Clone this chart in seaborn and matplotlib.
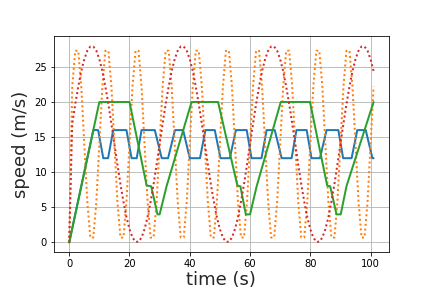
import numpy as np
import pandas as pd
import matplotlib
matplotlib.use("Agg")
import matplotlib.pyplot as plt
import seaborn as sns

# time samples (s) for the two oscillating series
time = list(range(0, 102))

orange_speed = [
    0.0, 22.2, 27.3, 27.3, 22.2, 14.0, 5.8, 0.7, 0.7, 5.8,
    14.0, 22.2, 27.3, 27.3, 22.2, 14.0, 5.8, 0.7, 0.7, 5.8,
    14.0, 22.2, 27.3, 27.3, 22.2, 14.0, 5.8, 0.7, 0.7, 5.8,
    14.0, 22.2, 27.3, 27.3, 22.2, 14.0, 5.8, 0.7, 0.7, 5.8,
    14.0, 22.2, 27.3, 27.3, 22.2, 14.0, 5.8, 0.7, 0.7, 5.8,
    14.0, 22.2, 27.3, 27.3, 22.2, 14.0, 5.8, 0.7, 0.7, 5.8,
    14.0, 22.2, 27.3, 27.3, 22.2, 14.0, 5.8, 0.7, 0.7, 5.8,
    14.0, 22.2, 27.3, 27.3, 22.2, 14.0, 5.8, 0.7, 0.7, 5.8,
    14.0, 22.2, 27.3, 27.3, 22.2, 14.0, 5.8, 0.7, 0.7, 5.8,
    14.0, 22.2, 27.3, 27.3, 22.2, 14.0, 5.8, 0.7, 0.7, 5.8,
    14.0, 22.2,
]

red_speed = [
    0.0, 16.9, 19.7, 22.2, 24.4, 26.1, 27.3, 27.9, 27.9, 27.3,
    26.1, 24.4, 22.2, 19.7, 16.9, 14.0, 11.1, 8.3, 5.8, 3.6,
    1.9, 0.7, 0.1, 0.1, 0.7, 1.9, 3.6, 5.8, 8.3, 11.1,
    14.0, 16.9, 19.7, 22.2, 24.4, 26.1, 27.3, 27.9, 27.9, 27.3,
    26.1, 24.4, 22.2, 19.7, 16.9, 14.0, 11.1, 8.3, 5.8, 3.6,
    1.9, 0.7, 0.1, 0.1, 0.7, 1.9, 3.6, 5.8, 8.3, 11.1,
    14.0, 16.9, 19.7, 22.2, 24.4, 26.1, 27.3, 27.9, 27.9, 27.3,
    26.1, 24.4, 22.2, 19.7, 16.9, 14.0, 11.1, 8.3, 5.8, 3.6,
    1.9, 0.7, 0.1, 0.1, 0.7, 1.9, 3.6, 5.8, 8.3, 11.1,
    14.0, 16.9, 19.7, 22.2, 24.4, 26.1, 27.3, 27.9, 27.9, 27.3,
    26.1, 24.4,
]

# piecewise-linear series (vertices)
blue_time = [0, 8, 9.6, 11.3, 12.9, 14.6, 19.0, 20.7, 22.4, 24.0, 28.4, 30.7,
             32.8, 35.1, 37.8, 40.0, 43.4, 45.2, 48.3, 50.2, 53.3, 55.3, 58.9,
             60.5, 63.8, 65.5, 68.2, 70.5, 73.8, 75.4, 78.8, 80.4, 83.2, 85.4,
             89.3, 90.9, 93.7, 95.6, 98.4, 100.6, 101]
blue_speed = [0, 16, 16, 12, 12, 16, 16, 12, 12, 16, 16, 12,
              12, 16, 16, 12, 12, 16, 16, 12, 12, 16, 16,
              12, 12, 16, 16, 12, 12, 16, 16, 12, 12, 16,
              16, 12, 12, 16, 16, 12, 12]

green_time = [0, 10, 20, 25.7, 27.2, 29.3, 30.0, 32.3, 40.6, 49.4, 55.8, 56.8,
              58.6, 60.0, 62.2, 70.2, 79.9, 85.6, 86.6, 88.7, 90.1, 92.0, 101]
green_speed = [0, 20, 20, 8.1, 8, 4, 4, 8, 20, 20, 8.1, 8,
               4, 4, 8, 20, 20, 8.1, 8, 4, 4, 8, 20]

sns.set_style("white")
plt.rcParams['font.family'] = ['DejaVu Sans']

fig = plt.figure(figsize=(6, 4), dpi=72)
ax = fig.add_subplot(111)
fig.subplots_adjust(left=0.125, right=0.9, top=0.875, bottom=0.124)

dots = (0, (1, 1.4))
sns.lineplot(x=blue_time, y=blue_speed, ax=ax, color="#1f77b4", linewidth=2, sort=False)
sns.lineplot(x=time, y=orange_speed, ax=ax, color="#ff7f0e", linewidth=2,
             linestyle=dots, sort=False)
sns.lineplot(x=green_time, y=green_speed, ax=ax, color="#2ca02c", linewidth=2, sort=False)
sns.lineplot(x=time, y=red_speed, ax=ax, color="#d62728", linewidth=2,
             linestyle=dots, sort=False)

ax.set_xlim(-5.05, 106.05)
ax.set_ylim(-1.4, 29.4)
ax.set_xticks([0, 20, 40, 60, 80, 100])
ax.set_yticks([0, 5, 10, 15, 20, 25])
ax.grid(True, color="#b0b0b0", linewidth=0.8)
for s in ax.spines.values():
    s.set_visible(True)
    s.set_color("black")
    s.set_linewidth(0.8)
ax.tick_params(axis="both", which="major", labelsize=10, length=3.5, width=0.8,
               direction="out", bottom=True, left=True, colors="black")
ax.set_xlabel("time (s)", fontsize=18, labelpad=2)
ax.set_ylabel("speed (m/s)", fontsize=18)

fig.savefig("out.png", dpi=72)
